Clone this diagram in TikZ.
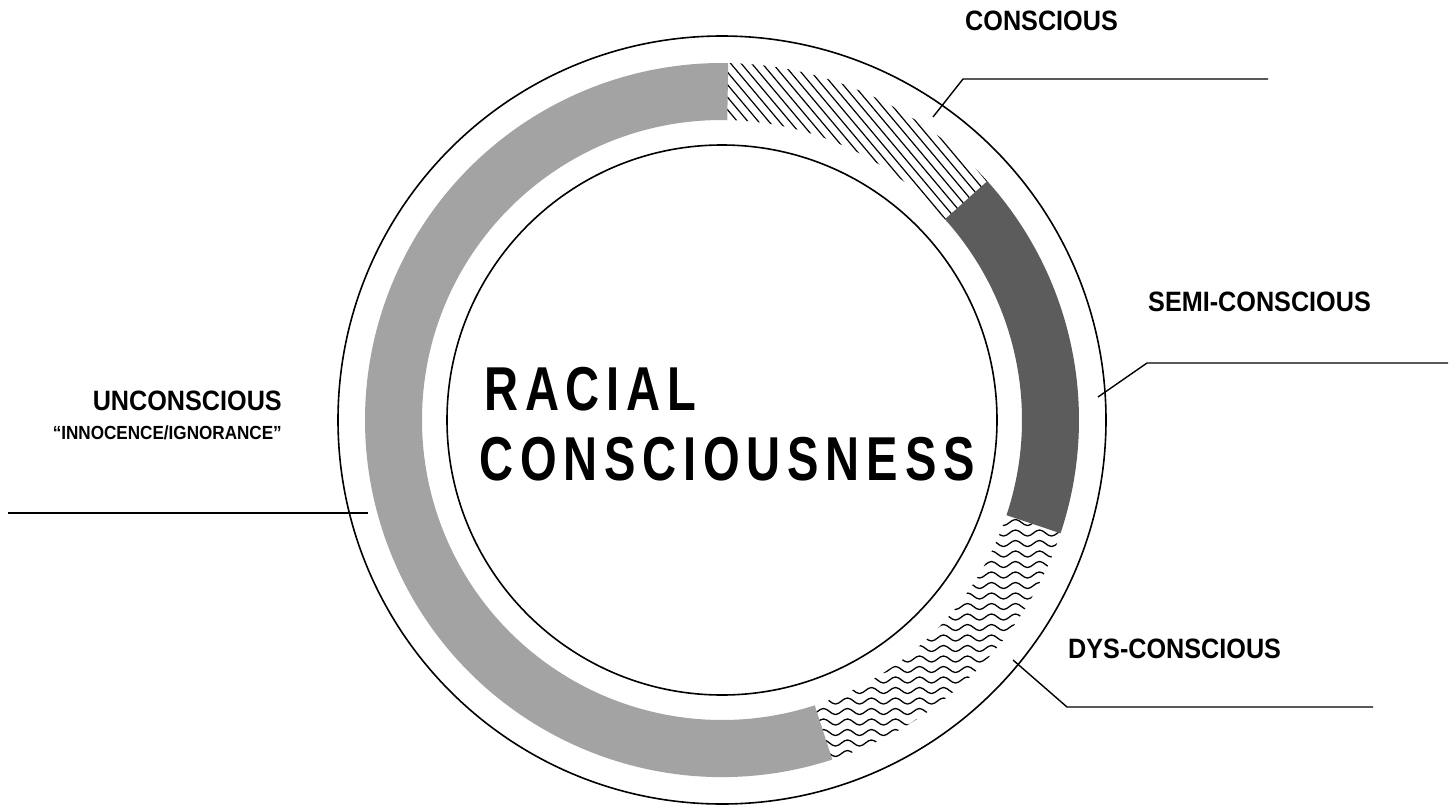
\documentclass[tikz,border=0pt]{standalone}
\usepackage{fontspec}
\usetikzlibrary{decorations.pathmorphing,calc}
\newfontfamily\lblfont{Liberation Sans}[FakeStretch=0.9]
\newfontfamily\smallfont{Liberation Sans}[FakeStretch=0.9]
\newfontfamily\titlefont{Liberation Sans}[FakeStretch=0.76,LetterSpace=11]
\colorlet{ringgray}{black!36}
\colorlet{ringdark}{black!64}
\begin{document}
\begin{tikzpicture}[x=1pt,y=-1pt,
  circ/.style={line width=1.6pt},
  leader/.style={line width=1.4pt},
  hatchline/.style={line width=1.2pt},
  waveline/.style={line width=1.3pt, decorate, decoration={snake, amplitude=3pt, segment length=24pt}},
  lbl/.style={inner sep=0pt, font=\lblfont\bfseries\fontsize{28}{28}\selectfont},
  lblsmall/.style={inner sep=0pt, font=\smallfont\bfseries\fontsize{19}{19}\selectfont},
  titletext/.style={inner sep=0pt, font=\titlefont\bfseries\fontsize{62}{62}\selectfont}]
\useasboundingbox (0,0) rectangle (1449,809);
\fill[white] (0,0) rectangle (1449,809);
\coordinate (C) at (722,420);
% ring segments
\begin{scope}[shift={(C)}, yscale=-1]
  \fill[ringgray] (89:300) arc[start angle=89,end angle=288,radius=300] -- (288:357) arc[start angle=288,end angle=89,radius=357] -- cycle;
  \fill[ringdark] (-18.5:300) arc[start angle=-18.5,end angle=42,radius=300] -- (42:357) arc[start angle=42,end angle=-18.5,radius=357] -- cycle;
  \begin{scope}
    \clip (42:300) arc[start angle=42,end angle=89,radius=300] -- (89:357) arc[start angle=89,end angle=42,radius=357] -- cycle;
    \foreach \k in {0,...,46} \draw[hatchline] ({140+10.5*\k},0) -- ++(-340,405);
  \end{scope}
  \begin{scope}
    \clip (-72:300) arc[start angle=-72,end angle=-18.5,radius=300] -- (-18.5:357) arc[start angle=-18.5,end angle=-72,radius=357] -- cycle;
    \foreach \k in {0,...,25} \draw[waveline] (70,{-92-10.5*\k}) -- (370,{-92-10.5*\k});
  \end{scope}
\end{scope}
% circles
\draw[circ] (C) circle[radius=384];
\draw[circ] (C) circle[radius=275];
% leader lines
\coordinate (cA) at (933,117); \coordinate (cAk) at (963,79); \coordinate (cAe) at (1268,79);
\coordinate (cB) at (1098,397); \coordinate (cBk) at (1147,363); \coordinate (cBe) at (1448,363);
\coordinate (cD) at (1013,660); \coordinate (cDk) at (1067,707); \coordinate (cDe) at (1373,707);
\coordinate (cU) at (368,513); \coordinate (cUe) at (8,513);
\draw[leader] (cA) -- (cAk) -- (cAe);
\draw[leader] (cB) -- (cBk) -- (cBe);
\draw[leader] (cD) -- (cDk) -- (cDe);
\draw[leader] (cU) -- (cUe);
% labels
\node[lbl, anchor=base west] (tCon) at (965,30) {CONSCIOUS};
\node[lbl, anchor=base west] (tSemi) at (1148,311) {SEMI-CONSCIOUS};
\node[lbl, anchor=base west] (tDys) at (1068,658) {DYS-CONSCIOUS};
\node[lbl, anchor=base east] (tUn) at (282,410) {UNCONSCIOUS};
\node[lblsmall, anchor=base east] (tInn) at (282,439) {“INNOCENCE/IGNORANCE”};
\node[titletext, anchor=base west] (tR) at (484,410) {RACIAL};
\node[titletext, anchor=base west] (tC) at (479,480) {CONSCIOUSNESS};
\end{tikzpicture}
\end{document}
